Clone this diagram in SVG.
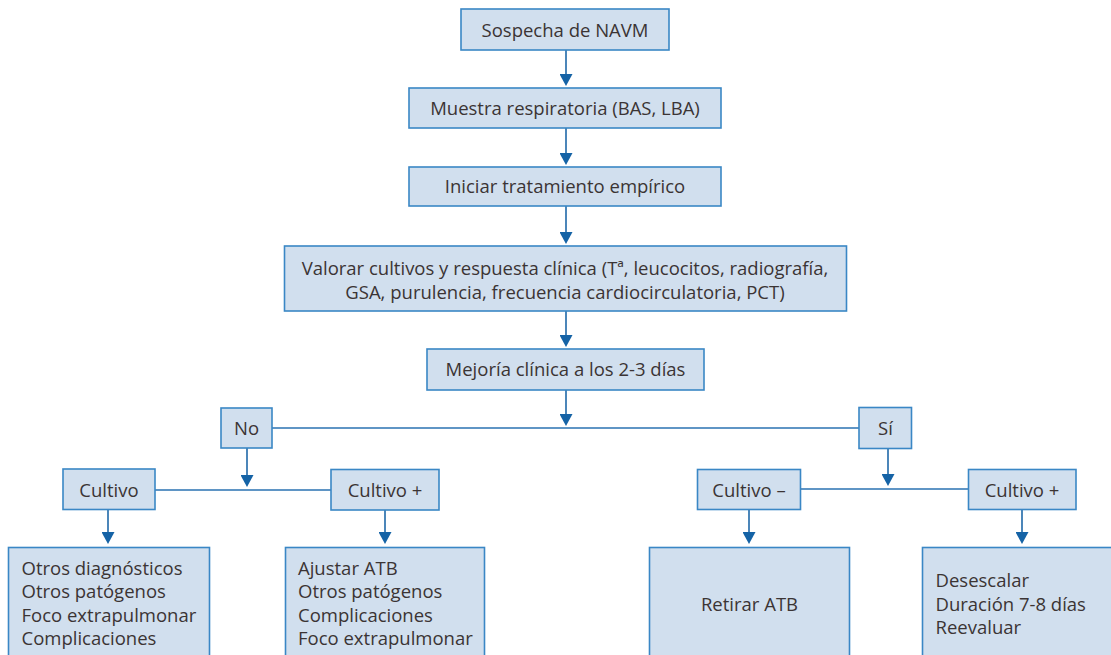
<svg xmlns="http://www.w3.org/2000/svg" width="1111" height="655" viewBox="0 0 1111 655">
<style>
.box{fill:#d1dfee;stroke:#3a87c5;stroke-width:1.6}
.t{font-family:"Open Sans","Noto Sans","Liberation Sans",sans-serif;font-size:18.5px;fill:#3b3434}
.c{text-anchor:middle}
.ln{stroke:#2a72b2;stroke-width:1.6;fill:none}
.ar{stroke:#1f68a8;stroke-width:1.6;fill:none;marker-end:url(#ah)}
</style>
<defs>
<marker id="ah" markerUnits="userSpaceOnUse" markerWidth="12" markerHeight="13" refX="10" refY="6.5" orient="auto" viewBox="0 0 12 13">
<path d="M0,0 L12,6.5 L0,13 Z" fill="#1563a6"/>
</marker>
</defs>
<rect width="1111" height="655" fill="#ffffff"/>
<g id="connectors">
<line class="ar" x1="566" y1="50" x2="566" y2="84"/>
<line class="ar" x1="566" y1="128" x2="566" y2="163"/>
<line class="ar" x1="566" y1="206" x2="566" y2="242"/>
<line class="ar" x1="566" y1="311" x2="566" y2="345"/>
<line class="ar" x1="566" y1="390" x2="566" y2="424"/>
<line class="ln" x1="272" y1="428" x2="859" y2="428"/>
<line class="ar" x1="247" y1="448" x2="247" y2="485"/>
<line class="ln" x1="155" y1="490" x2="331" y2="490"/>
<line class="ar" x1="888" y1="448" x2="888" y2="484"/>
<line class="ln" x1="801" y1="489" x2="968" y2="489"/>
<line class="ar" x1="108" y1="509" x2="108" y2="542"/>
<line class="ar" x1="385" y1="510" x2="385" y2="542"/>
<line class="ar" x1="749" y1="509" x2="749" y2="542"/>
<line class="ar" x1="1022" y1="509" x2="1022" y2="542"/>
</g>
<g id="n1"><rect class="box" x="461" y="9" width="208" height="41"/><text class="t c" x="565" y="36.5">Sospecha de NAVM</text></g>
<g id="n2"><rect class="box" x="409" y="88" width="312" height="40"/><text class="t c" x="565" y="115">Muestra respiratoria (BAS, LBA)</text></g>
<g id="n3"><rect class="box" x="409" y="167" width="312" height="39"/><text class="t c" x="565" y="193">Iniciar tratamiento empírico</text></g>
<g id="n4"><rect class="box" x="284.5" y="246" width="562" height="65"/><text class="t c" x="565" y="275">Valorar cultivos y respuesta clínica (Tª, leucocitos, radiografía,</text><text class="t c" x="565" y="298.5">GSA, purulencia, frecuencia cardiocirculatoria, PCT)</text></g>
<g id="n5"><rect class="box" x="427" y="349" width="277" height="41"/><text class="t c" x="565.5" y="376">Mejoría clínica a los 2-3 días</text></g>
<g id="n6"><rect class="box" x="221" y="408" width="51" height="40"/><text class="t c" x="246.5" y="435">No</text></g>
<g id="n7"><rect class="box" x="859" y="407.5" width="52.5" height="41"/><text class="t c" x="885.5" y="435">Sí</text></g>
<g id="n8"><rect class="box" x="63" y="469" width="92" height="40.5"/><text class="t c" x="109" y="496.5">Cultivo</text></g>
<g id="n9"><rect class="box" x="331" y="469.5" width="108" height="40.5"/><text class="t c" x="385" y="497">Cultivo +</text></g>
<g id="n10"><rect class="box" x="697.5" y="469.5" width="103" height="40"/><text class="t c" x="749" y="497">Cultivo –</text></g>
<g id="n11"><rect class="box" x="968.5" y="469.5" width="107.5" height="40"/><text class="t c" x="1022" y="497">Cultivo +</text></g>
<g id="n12"><rect class="box" x="8.5" y="547.5" width="201" height="115"/><text class="t" x="21.5" y="575">Otros diagnósticos</text><text class="t" x="21.5" y="598.3">Otros patógenos</text><text class="t" x="21.5" y="621.7">Foco extrapulmonar</text><text class="t" x="21.5" y="645">Complicaciones</text></g>
<g id="n13"><rect class="box" x="285.5" y="547.5" width="199" height="115"/><text class="t" x="298" y="575">Ajustar ATB</text><text class="t" x="298" y="598.3">Otros patógenos</text><text class="t" x="298" y="621.7">Complicaciones</text><text class="t" x="298" y="645">Foco extrapulmonar</text></g>
<g id="n14"><rect class="box" x="649.5" y="547.5" width="200" height="115"/><text class="t c" x="749.5" y="611">Retirar ATB</text></g>
<g id="n15"><rect class="box" x="922.5" y="547.5" width="195" height="115"/><text class="t" x="935.5" y="587">Desescalar</text><text class="t" x="935.5" y="610.5">Duración 7-8 días</text><text class="t" x="935.5" y="634">Reevaluar</text></g>
</svg>
